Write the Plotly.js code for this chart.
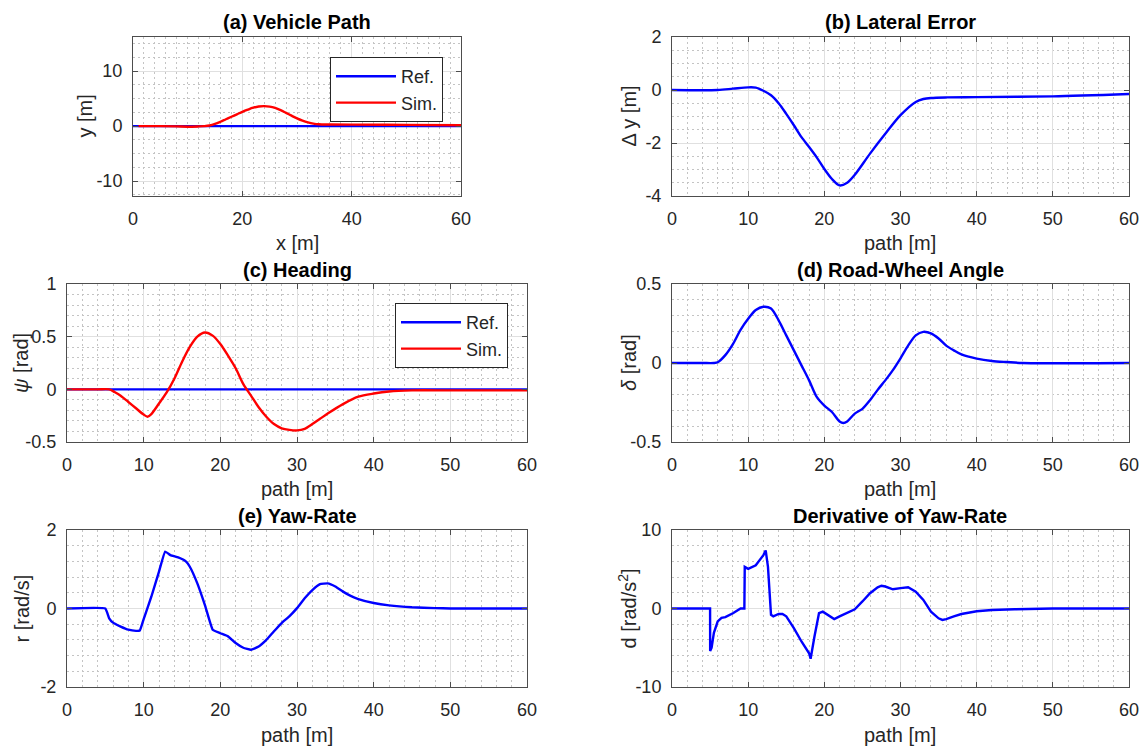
<!DOCTYPE html>
<html>
<head>
<meta charset="utf-8">
<script src="https://cdn.plot.ly/plotly-3.0.1.min.js"></script>
<style>
  html, body { margin: 0; padding: 0; background: #ffffff; }
  #chart { width: 1143px; height: 750px; }
</style>
</head>
<body>
<div id="chart"></div>
<script>
// ---------------- DATA ----------------
// (a) Vehicle Path
const refPathX = [0, 60];
const refPathY = [0, 0];
const simPathX = [1, 5, 8, 10, 12, 13, 14, 15, 16, 17, 18, 19, 20, 21, 22, 23, 24, 25, 26, 27, 28, 29, 30, 31, 32, 33, 34, 36, 40, 50, 60];
const simPathY = [0, 0, -0.05, -0.1, -0.05, 0, 0.12, 0.4, 0.8, 1.25, 1.7, 2.15, 2.6, 3.0, 3.35, 3.57, 3.64, 3.55, 3.3, 2.9, 2.4, 1.9, 1.4, 1.0, 0.68, 0.45, 0.33, 0.29, 0.28, 0.22, 0.15];

// (b) Lateral Error
const latPath = [0, 6, 8, 10, 11, 12, 13, 14, 15, 16, 17, 18, 19, 20, 21, 22, 23, 24, 26, 28, 30, 32, 33, 34, 36, 40, 50, 60];
const latErr  = [0, 0, 0.05, 0.1, 0.09, -0.03, -0.2, -0.5, -0.9, -1.33, -1.78, -2.15, -2.54, -2.98, -3.36, -3.6, -3.5, -3.2, -2.4, -1.65, -0.95, -0.45, -0.34, -0.3, -0.28, -0.27, -0.24, -0.15];

// (c) Heading
const headRefPath = [0, 60];
const headRef     = [0, 0];
const headPath = [0, 4, 5.5, 6.2, 7, 8, 9, 10, 10.5, 11, 12, 13, 14, 15, 16, 17, 18, 19, 20, 21, 22, 23, 24, 25, 26, 27, 28, 29, 30, 31, 32, 33, 34, 36, 38, 40, 42, 45, 50, 60];
const headSim  = [0, 0, 0, -0.025, -0.06, -0.12, -0.18, -0.24, -0.26, -0.235, -0.135, -0.03, 0.1, 0.26, 0.4, 0.5, 0.54, 0.51, 0.43, 0.32, 0.2, 0.05, -0.06, -0.17, -0.26, -0.33, -0.37, -0.385, -0.39, -0.375, -0.33, -0.28, -0.23, -0.14, -0.07, -0.04, -0.02, -0.01, -0.01, -0.01];

// (d) Road-Wheel Angle
const rwaPath = [0, 4, 5.5, 6, 7, 8, 9, 10, 11, 12, 13, 14, 15, 16, 17, 18, 19, 20, 21, 22, 22.5, 23, 24, 25, 26, 27, 28, 29, 30, 31, 32, 33, 34, 35, 36, 37, 38, 40, 42, 44, 46, 60];
const rwa     = [0, 0, 0, 0.005, 0.05, 0.12, 0.21, 0.28, 0.335, 0.356, 0.345, 0.27, 0.175, 0.08, -0.015, -0.11, -0.215, -0.27, -0.31, -0.37, -0.38, -0.37, -0.32, -0.29, -0.235, -0.17, -0.11, -0.045, 0.03, 0.11, 0.175, 0.197, 0.187, 0.155, 0.11, 0.08, 0.054, 0.028, 0.013, 0.006, 0, 0];

// (e) Yaw-Rate
const yawPath = [0, 5, 5.5, 6, 7, 8, 9, 9.5, 10, 11, 12, 12.8, 13.5, 14.5, 15.5, 16, 17, 18, 19, 20, 21, 22, 23, 24, 25, 26, 27, 28, 29, 30, 31, 32, 33, 34, 35, 36, 37, 38, 40, 42, 45, 48, 50, 60];
const yawRate = [0, 0, -0.25, -0.36, -0.46, -0.54, -0.57, -0.56, -0.27, 0.3, 0.94, 1.45, 1.36, 1.3, 1.2, 1.07, 0.64, 0.08, -0.54, -0.63, -0.71, -0.88, -1.0, -1.05, -0.97, -0.8, -0.58, -0.37, -0.2, 0.01, 0.26, 0.47, 0.62, 0.64, 0.56, 0.43, 0.32, 0.24, 0.14, 0.08, 0.03, 0.01, 0, 0];

// (f) Derivative of Yaw-Rate
const dYawPath = [0, 5, 5.01, 5.2, 5.5, 6, 6.5, 7, 8, 9, 9.5, 9.55, 10, 11, 12, 12.3, 12.6, 13, 13.3, 14, 14.5, 15, 16, 17, 18, 18.2, 18.7, 19.3, 19.8, 20.5, 21.3, 22, 23, 24, 25, 26, 27, 27.5, 28, 29, 30, 31, 32, 33, 34, 35, 35.5, 36, 37, 38, 40, 42, 45, 50, 60];
const dYaw     = [0, 0, -5.4, -5.0, -3.1, -1.65, -1.2, -1.1, -0.6, 0, 0, 5.3, 5.05, 5.5, 6.8, 7.4, 5.3, -0.8, -1.0, -0.7, -0.7, -1.0, -2.5, -4.2, -5.7, -6.4, -3.6, -0.6, -0.4, -0.8, -1.35, -1.0, -0.5, -0.1, 0.9, 1.95, 2.7, 2.9, 2.8, 2.45, 2.6, 2.7, 2.15, 1.1, -0.4, -1.25, -1.45, -1.35, -1.0, -0.7, -0.35, -0.2, -0.1, 0, 0];

// Tick labels
const xTicksPath = [0, 20, 40, 60];
const xTicksS    = [0, 10, 20, 30, 40, 50, 60];
const yTicksA = [-10, 0, 10];
const yTicksB = [-4, -2, 0, 2];
const yTicksC = [-0.5, 0, 0.5, 1];
const yTicksD = [-0.5, 0, 0.5];
const yTicksE = [-2, 0, 2];
const yTicksF = [-10, 0, 10];

// Texts
const panelTitles = ['(a) Vehicle Path', '(b) Lateral Error', '(c) Heading', '(d) Road-Wheel Angle', '(e) Yaw-Rate', 'Derivative of Yaw-Rate'];
const xLabels = ['x [m]', 'path [m]', 'path [m]', 'path [m]', 'path [m]', 'path [m]'];
const yLabels = ['y [m]', '\u0394 y [m]', '<i>\u03c8</i> [rad]', '<i>\u03b4</i> [rad]', 'r [rad/s]', 'd [rad/s<sup>2</sup>]'];
const legendNames = ['Ref.', 'Sim.'];

// ---------------- LAYOUT ----------------
const W = 1143, H = 750;
const FONT = '"Liberation Sans", Arial, Helvetica, sans-serif';
const BLUE = '#0000ff', RED = '#ff0000';
const px = v => v / W;
const py = v => 1 - v / H;

// plot boxes [left, right, top, bottom] in pixels
const boxes = [
  [133, 461, 37, 196],
  [672, 1129, 37, 196],
  [67, 527, 284, 442],
  [672, 1129, 284, 442],
  [67, 527, 530, 687],
  [672, 1129, 530, 687]
];
const xRanges = [[0, 60], [0, 60], [0, 60], [0, 60], [0, 60], [0, 60]];
const yRanges = [[-12.7, 16.2], [-4, 2], [-0.5, 1], [-0.5, 0.5], [-2, 2], [-10, 10]];
const xTicks = [xTicksPath, xTicksS, xTicksS, xTicksS, xTicksS, xTicksS];
const yTicks = [yTicksA, yTicksB, yTicksC, yTicksD, yTicksE, yTicksF];
const xMinor = [2, 2, 2, 2, 2, 2];
const yMinor = [2.5, 0.5, 0.1, 0.1, 0.4, 2];
const titleY = [22, 22, 270, 270, 516, 516];
const xLabelY = [243, 243, 489, 489, 735, 735];
const yLabelX = [85, 629, 21, 629, 21, 627];

function legendBox(right, top) {
  return {
    x: px(right), y: py(top), xanchor: 'right', yanchor: 'top',
    xref: 'paper', yref: 'paper',
    bgcolor: '#ffffff', bordercolor: '#262626', borderwidth: 1,
    font: {family: FONT, size: 18, color: '#262626'},
    itemwidth: 60,
    tracegroupgap: 0
  };
}

const layout = {
  width: W, height: H,
  margin: {l: 0, r: 0, t: 0, b: 0},
  paper_bgcolor: '#ffffff',
  plot_bgcolor: '#ffffff',
  font: {family: FONT, size: 18, color: '#262626'},
  annotations: [],
  legend: legendBox(443, 57),
  legend2: legendBox(508, 303)
};

function axisCommon(range, ticks, minorDtick) {
  return {
    range: range,
    autorange: false,
    tickmode: 'array',
    tickvals: ticks,
    ticktext: ticks.map(t => String(t)),
    ticks: 'inside',
    ticklen: 5,
    tickwidth: 1,
    tickcolor: '#4d4d4d',
    showline: true,
    linecolor: '#4d4d4d',
    linewidth: 1,
    mirror: 'ticks',
    showgrid: true,
    gridcolor: '#e0e0e0',
    gridwidth: 1,
    zeroline: false,
    tickfont: {family: FONT, size: 18, color: '#262626'},
    ticklabelstandoff: 6,
    fixedrange: true,
    minor: {
      tick0: 0,
      dtick: minorDtick,
      showgrid: true,
      gridcolor: '#c4c4c4',
      griddash: '2px,3px',
      gridwidth: 1,
      ticks: ''
    }
  };
}

boxes.forEach((b, i) => {
  const n = i === 0 ? '' : String(i + 1);
  const xa = axisCommon(xRanges[i], xTicks[i], xMinor[i]);
  xa.domain = [px(b[0]), px(b[1])];
  xa.anchor = 'y' + n;
  const ya = axisCommon(yRanges[i], yTicks[i], yMinor[i]);
  ya.domain = [py(b[3]), py(b[2])];
  ya.anchor = 'x' + n;
  layout['xaxis' + n] = xa;
  layout['yaxis' + n] = ya;

  const cx = (b[0] + b[1]) / 2;
  const cy = (b[2] + b[3]) / 2;
  layout.annotations.push({
    text: '<b>' + panelTitles[i] + '</b>', xref: 'paper', yref: 'paper',
    x: px(cx), y: py(titleY[i]), xanchor: 'center', yanchor: 'middle',
    showarrow: false, font: {family: FONT, size: 20, color: '#000000'}
  });
  layout.annotations.push({
    text: xLabels[i], xref: 'paper', yref: 'paper',
    x: px(cx), y: py(xLabelY[i]), xanchor: 'center', yanchor: 'middle',
    showarrow: false, font: {family: FONT, size: 20, color: '#262626'}
  });
  layout.annotations.push({
    text: yLabels[i], xref: 'paper', yref: 'paper', textangle: -90,
    x: px(yLabelX[i]), y: py(cy), xanchor: 'center', yanchor: 'middle',
    showarrow: false, font: {family: FONT, size: 20, color: '#262626'}
  });
});

const lw = 2.4;
const data = [
  {x: refPathX, y: refPathY, xaxis: 'x', yaxis: 'y', mode: 'lines', name: legendNames[0],
   line: {color: BLUE, width: lw}, legend: 'legend'},
  {x: simPathX, y: simPathY, xaxis: 'x', yaxis: 'y', mode: 'lines', name: legendNames[1],
   line: {color: RED, width: lw, shape: 'spline', smoothing: 1}, legend: 'legend'},
  {x: latPath, y: latErr, xaxis: 'x2', yaxis: 'y2', mode: 'lines', showlegend: false,
   line: {color: BLUE, width: lw, shape: 'spline', smoothing: 0.8}},
  {x: headRefPath, y: headRef, xaxis: 'x3', yaxis: 'y3', mode: 'lines', name: legendNames[0],
   line: {color: BLUE, width: lw}, legend: 'legend2'},
  {x: headPath, y: headSim, xaxis: 'x3', yaxis: 'y3', mode: 'lines', name: legendNames[1],
   line: {color: RED, width: lw, shape: 'spline', smoothing: 0.8}, legend: 'legend2'},
  {x: rwaPath, y: rwa, xaxis: 'x4', yaxis: 'y4', mode: 'lines', showlegend: false,
   line: {color: BLUE, width: lw, shape: 'spline', smoothing: 0.8}},
  {x: yawPath, y: yawRate, xaxis: 'x5', yaxis: 'y5', mode: 'lines', showlegend: false,
   line: {color: BLUE, width: lw, shape: 'spline', smoothing: 0.3}},
  {x: dYawPath, y: dYaw, xaxis: 'x6', yaxis: 'y6', mode: 'lines', showlegend: false,
   line: {color: BLUE, width: lw}}
];

Plotly.newPlot('chart', data, layout, {displayModeBar: false, staticPlot: true});
</script>
</body>
</html>
